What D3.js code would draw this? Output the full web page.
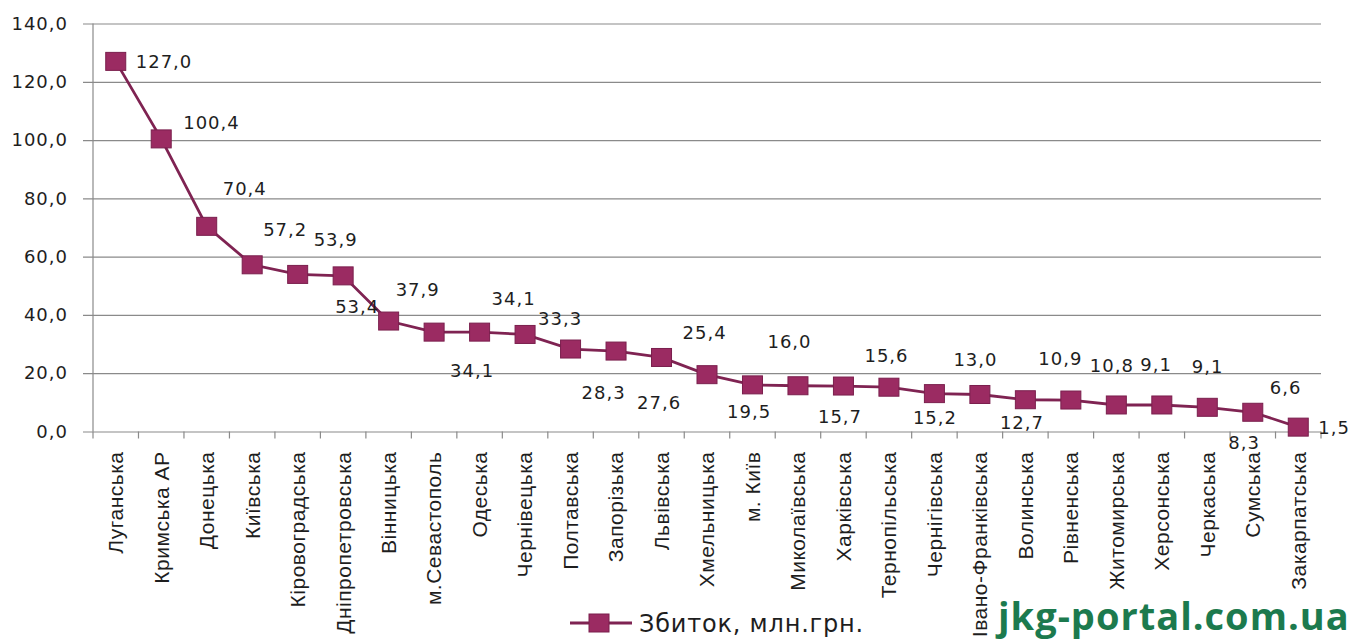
<!DOCTYPE html>
<html>
<head>
<meta charset="utf-8">
<script src="https://cdn.jsdelivr.net/npm/d3@7"></script>
<style>
  html, body { margin: 0; padding: 0; background: #ffffff; }
  svg { display: block; }
</style>
</head>
<body>
<svg id="chart" width="1365" height="642"></svg>
<script>
// Regions, sorted by loss
const regions = [
  "Луганська", "Кримська АР", "Донецька", "Київська", "Кіровоградська",
  "Дніпропетровська", "Вінницька", "м.Севастополь", "Одеська", "Чернівецька",
  "Полтавська", "Запорізька", "Львівська", "Хмельницька", "м. Київ",
  "Миколаївська", "Харківська", "Тернопільська", "Чернігівська", "Івано-Франківська",
  "Волинська", "Рівненська", "Житомирська", "Херсонська", "Черкаська",
  "Сумська", "Закарпатська"
];

// Loss, mln UAH
const losses = [
  127.0, 100.4, 70.4, 57.2, 53.9,
  53.4, 37.9, 34.1, 34.1, 33.3,
  28.3, 27.6, 25.4, 19.5, 16.0,
  15.7, 15.6, 15.2, 13.0, 12.7,
  10.9, 10.8, 9.1, 9.1, 8.3,
  6.6, 1.5
];

const yTicks = [0, 20, 40, 60, 80, 100, 120, 140];
const yTickLabels = ["0,0", "20,0", "40,0", "60,0", "80,0", "100,0", "120,0", "140,0"];

const seriesName = "Збиток, млн.грн.";
const watermark = "jkg-portal.com.ua";

// Hand-placed value label offsets (dx from point centre to text start, dy of text centre)
const labelOffsets = [
  [20, 0], [22, -16], [16, -38], [11, -35], [16, -35],
  [-8, 31], [7, -32], [16, 38], [12, -34], [13, -16],
  [11, 43], [21, 51], [21, -25], [20, 37], [15, -43],
  [20, 31], [21, -31], [24, 30], [19, -34], [20, 28],
  [13, -41], [19, -35], [24, -40], [30, -38], [21, 35],
  [17, -25], [20, 0]
];

const fmt = v => v.toFixed(1).replace(".", ",");

const svg = d3.select("#chart");
const plotLeft = 93, plotRight = 1321, plotTop = 23.5, plotBottom = 431.5;

const x = d3.scaleBand().domain(regions).range([plotLeft, plotRight]).padding(0);
const y = d3.scaleLinear().domain([0, 140]).range([plotBottom, plotTop]);

const valueFont = "'DejaVu Sans', Verdana, sans-serif";
const catFont = "'Liberation Sans', Arial, sans-serif";
const textColor = "#1e1e1e";

// Gridlines + y tick labels
const yAxis = d3.axisLeft(y)
  .tickValues(yTicks)
  .tickFormat((d, i) => yTickLabels[i])
  .tickSize(plotRight - 83)
  .tickPadding(15);

const gy = svg.append("g")
  .attr("transform", `translate(${plotRight},0)`)
  .call(yAxis);
gy.select(".domain").remove();
gy.selectAll(".tick line").attr("stroke", "#8a8a8a").attr("stroke-width", 1.2);
gy.selectAll(".tick text")
  .attr("fill", textColor)
  .style("font-family", valueFont)
  .style("font-size", "18px")
  .style("letter-spacing", "1px");

// Vertical axis line
svg.append("line")
  .attr("x1", plotLeft).attr("x2", plotLeft)
  .attr("y1", y(140)).attr("y2", y(0))
  .attr("stroke", "#8a8a8a").attr("stroke-width", 1.2);

// Category axis: boundary ticks
const boundaries = regions.map(r => x(r)).concat([x(regions[regions.length - 1]) + x.bandwidth()]);
svg.append("g").selectAll("line")
  .data(boundaries)
  .join("line")
  .attr("x1", d => d).attr("x2", d => d)
  .attr("y1", y(0)).attr("y2", y(0) + 7)
  .attr("stroke", "#8a8a8a").attr("stroke-width", 1.2);

// Category labels (rotated)
const xAxis = d3.axisBottom(x).tickSize(0).tickPadding(0);
const gx = svg.append("g")
  .attr("transform", `translate(0,${y(0)})`)
  .call(xAxis);
gx.select(".domain").remove();
gx.selectAll(".tick text")
  .attr("transform", "rotate(-90)")
  .attr("x", -20)
  .attr("y", 0)
  .attr("dy", "0.35em")
  .attr("text-anchor", "end")
  .attr("fill", textColor)
  .style("font-family", catFont)
  .style("font-size", "21px")
  .style("letter-spacing", "0.5px");

// Series line
const lineColor = "#7f2352";
const markerFill = "#9b2b62";
const cx = d => x(d) + x.bandwidth() / 2;

const line = d3.line()
  .x((d, i) => cx(regions[i]))
  .y(d => y(d));

svg.append("path")
  .datum(losses)
  .attr("d", line)
  .attr("fill", "none")
  .attr("stroke", lineColor)
  .attr("stroke-width", 2.8);

const mw = 20, mh = 18;
svg.append("g").selectAll("rect")
  .data(losses)
  .join("rect")
  .attr("x", (d, i) => cx(regions[i]) - mw / 2)
  .attr("y", d => y(d) - mh / 2)
  .attr("width", mw)
  .attr("height", mh)
  .attr("fill", markerFill)
  .attr("stroke", "#7a1f4d")
  .attr("stroke-width", 1);

// Value labels
svg.append("g").selectAll("text")
  .data(losses)
  .join("text")
  .attr("x", (d, i) => cx(regions[i]) + labelOffsets[i][0])
  .attr("y", (d, i) => y(d) + labelOffsets[i][1])
  .attr("dy", "0.36em")
  .attr("fill", textColor)
  .style("font-family", valueFont)
  .style("font-size", "18px")
  .style("letter-spacing", "1px")
  .text(d => fmt(d));

// Legend
const lg = svg.append("g").attr("transform", "translate(570,623)");
lg.append("line")
  .attr("x1", 0).attr("x2", 62).attr("y1", 0).attr("y2", 0)
  .attr("stroke", lineColor).attr("stroke-width", 2.8);
lg.append("rect")
  .attr("x", 29 - mw / 2).attr("y", -mh / 2)
  .attr("width", mw).attr("height", mh)
  .attr("fill", markerFill).attr("stroke", "#7a1f4d").attr("stroke-width", 1);
lg.append("text")
  .attr("x", 69).attr("y", 0).attr("dy", "0.36em")
  .attr("fill", textColor)
  .style("font-family", valueFont)
  .style("font-size", "24px")
  .style("letter-spacing", "0.8px")
  .text(seriesName);

// Site mark
svg.append("text")
  .attr("x", 998).attr("y", 630)
  .attr("fill", "#1c7a4e")
  .style("font-family", "'Open Sans', sans-serif")
  .style("font-weight", "bold")
  .style("font-size", "38px")
  .style("letter-spacing", "1px")
  .text(watermark);
</script>
</body>
</html>
